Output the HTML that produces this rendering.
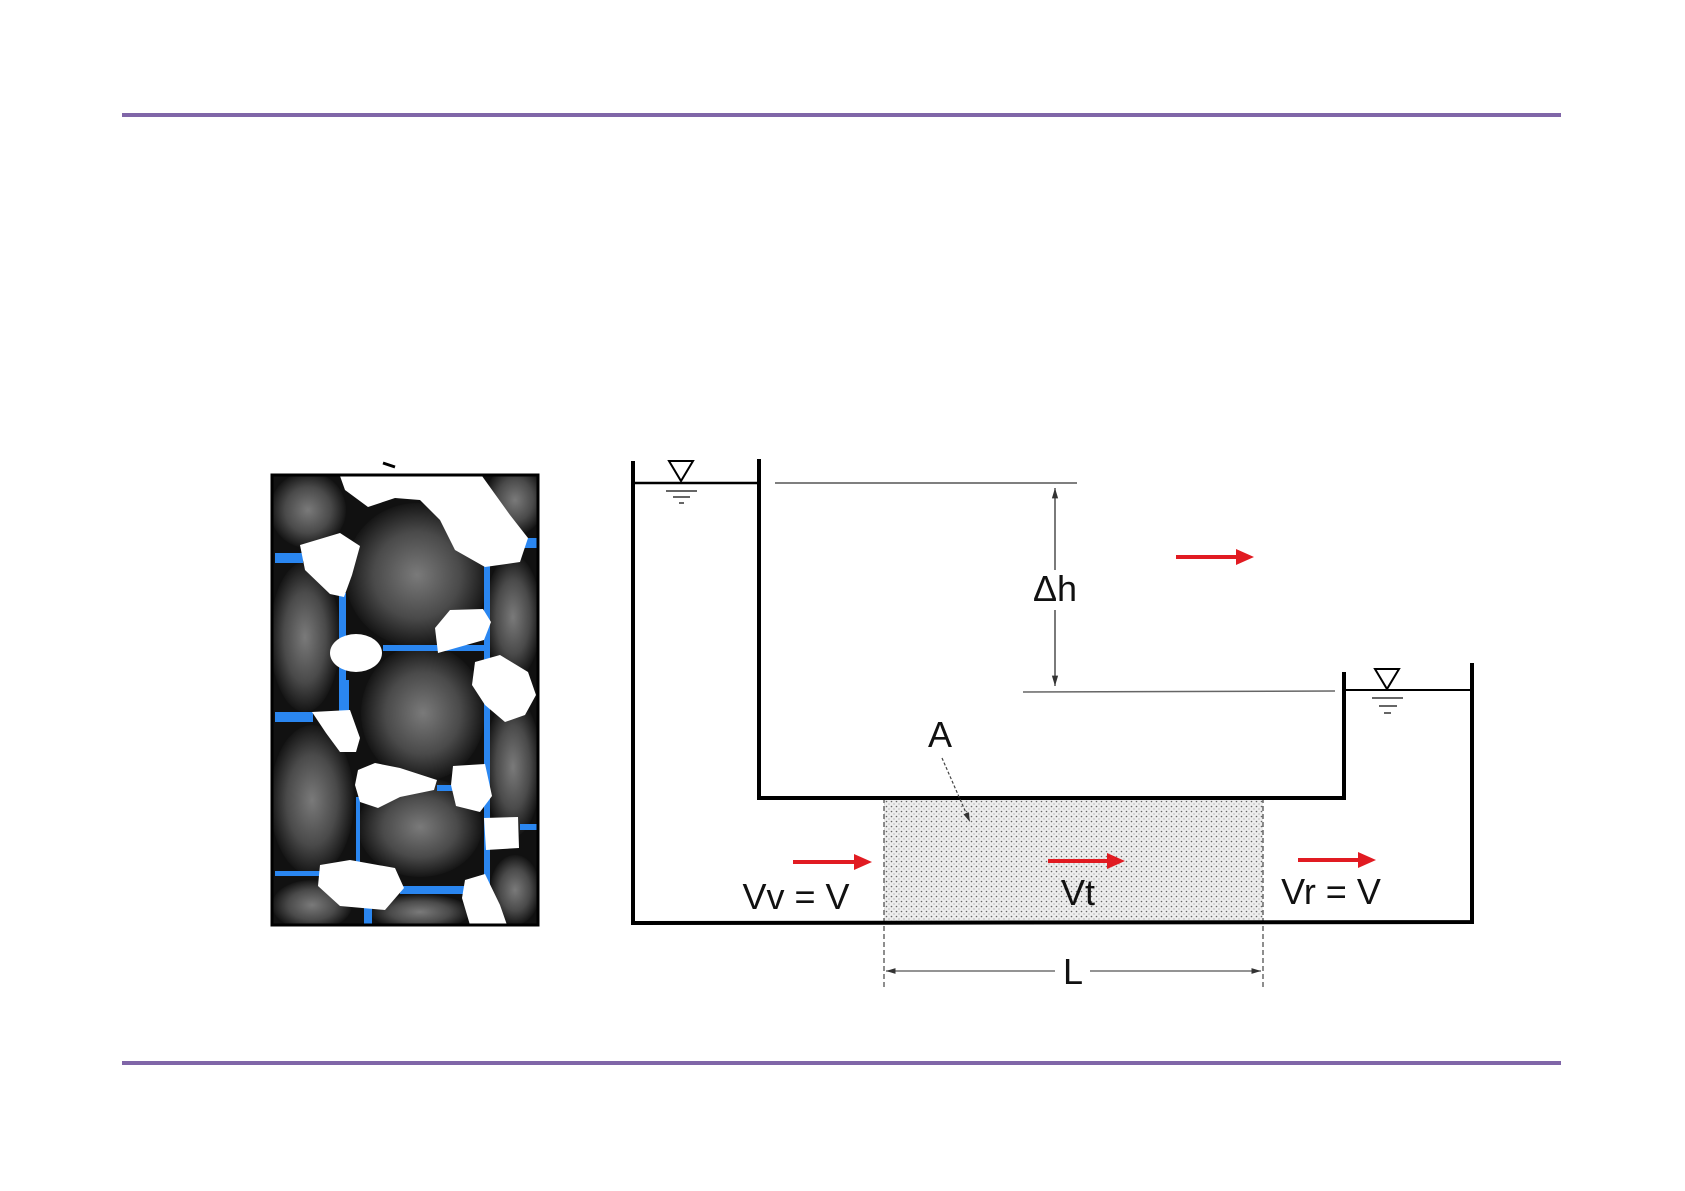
<!DOCTYPE html>
<html><head><meta charset="utf-8"><style>
html,body{margin:0;padding:0;background:#fff;}
svg{display:block;}
text{font-family:"Liberation Sans",sans-serif;fill:#111;}
</style></head><body>
<svg width="1685" height="1191" viewBox="0 0 1685 1191" xmlns="http://www.w3.org/2000/svg">
<defs>
<radialGradient id="g" cx="50%" cy="50%" r="50%">
<stop offset="0" stop-color="#7a7a7a"/><stop offset="0.6" stop-color="#4a4a4a"/><stop offset="1" stop-color="#151515"/>
</radialGradient>
<pattern id="dots" width="5" height="5" patternUnits="userSpaceOnUse">
<rect width="5" height="5" fill="#eeeeee"/><circle cx="1.5" cy="1.5" r="0.8" fill="#666"/><circle cx="4" cy="4" r="0.6" fill="#999"/>
</pattern>
<clipPath id="cp"><rect x="272" y="475" width="266" height="450"/></clipPath>
<marker id="ah" viewBox="0 0 10 10" refX="10" refY="5" markerWidth="8" markerHeight="8" orient="auto-start-reverse"><path d="M0,2 L10,5 L0,8 z" fill="#333"/></marker>
</defs>
<rect width="1685" height="1191" fill="#fff"/>
<rect x="122" y="113" width="1439" height="4" fill="#8066a8"/>
<rect x="122" y="1061" width="1439" height="4" fill="#8066a8"/>

<!-- porous panel -->
<g clip-path="url(#cp)">
<rect x="272" y="475" width="266" height="450" fill="#111"/>
<g fill="url(#g)">
<ellipse cx="417" cy="575" rx="72" ry="72"/>
<ellipse cx="423" cy="713" rx="62" ry="68"/>
<ellipse cx="420" cy="827" rx="62" ry="50"/>
<ellipse cx="308" cy="510" rx="38" ry="38"/>
<ellipse cx="305" cy="637" rx="35" ry="75"/>
<ellipse cx="312" cy="800" rx="42" ry="75"/>
<ellipse cx="312" cy="905" rx="40" ry="25"/>
<ellipse cx="515" cy="500" rx="30" ry="35"/>
<ellipse cx="513" cy="617" rx="28" ry="62"/>
<ellipse cx="513" cy="767" rx="28" ry="70"/>
<ellipse cx="515" cy="890" rx="25" ry="35"/>
<ellipse cx="420" cy="912" rx="50" ry="18"/>
</g>
<g fill="#2a86f0">
<rect x="275" y="553" width="28" height="10"/>
<rect x="520" y="538" width="17" height="10"/>
<rect x="339" y="593" width="7" height="124"/>
<rect x="339" y="680" width="10" height="40"/>
<rect x="383" y="645" width="107" height="6"/>
<rect x="484" y="560" width="6" height="330"/>
<rect x="275" y="712" width="38" height="10"/>
<rect x="356" y="797" width="4" height="73"/>
<rect x="437" y="785" width="20" height="6"/>
<rect x="520" y="824" width="17" height="6"/>
<rect x="275" y="871" width="45" height="5"/>
<rect x="400" y="886" width="70" height="8"/>
<rect x="364" y="906" width="8" height="19"/>
</g>
<g fill="#fff">
<path d="M340,476 L482,476 L510,515 L528,538 L520,562 L485,567 L455,550 L440,520 L420,500 L395,498 L368,507 L345,490 z"/>
<path d="M300,545 L340,533 L360,546 L352,575 L344,597 L330,594 L305,570 z"/>
<path d="M435,628 L450,610 L483,609 L491,622 L484,640 L438,653 z"/>
<ellipse cx="356" cy="653" rx="26" ry="19"/>
<path d="M475,662 L500,655 L528,672 L536,695 L525,715 L505,722 L485,705 L472,685 z"/>
<path d="M312,712 L350,710 L360,738 L356,752 L340,752 L326,733 z"/>
<path d="M358,770 L375,763 L400,768 L437,780 L434,790 L400,797 L378,808 L360,802 L355,785 z"/>
<path d="M453,766 L485,764 L492,796 L480,812 L456,806 L451,785 z"/>
<path d="M484,818 L518,817 L519,848 L486,850 z"/>
<path d="M320,865 L350,860 L395,868 L404,888 L385,910 L340,906 L318,886 z"/>
<path d="M465,880 L485,874 L500,905 L507,925 L470,925 L462,898 z"/>
</g>
</g>
<rect x="272" y="475" width="266" height="450" fill="none" stroke="#000" stroke-width="3"/>
<path d="M383,463 L395,467" stroke="#000" stroke-width="3"/>

<!-- sample -->
<rect x="884" y="798" width="379" height="124" fill="url(#dots)"/>
<line x1="884" y1="798" x2="884" y2="990" stroke="#444" stroke-width="1.2" stroke-dasharray="5,3"/>
<line x1="1263" y1="798" x2="1263" y2="990" stroke="#444" stroke-width="1.2" stroke-dasharray="5,3"/>

<!-- tanks -->
<g fill="none" stroke="#000" stroke-width="4">
<path d="M633,461 L633,923 L1472,922 L1472,663"/>
<path d="M759,459 L759,798 L1344,798 L1344,672"/>
</g>
<line x1="633" y1="483" x2="759" y2="483" stroke="#000" stroke-width="2.5"/>
<line x1="1344" y1="690" x2="1472" y2="690" stroke="#000" stroke-width="2"/>
<g fill="none" stroke="#000" stroke-width="2">
<path d="M669,461 L693,461 L681,481 z"/>
<path d="M1375,669 L1399,669 L1387,689 z"/>
</g>
<g stroke="#333" stroke-width="1.5">
<line x1="666" y1="491" x2="697" y2="491"/><line x1="673" y1="497" x2="690" y2="497"/><line x1="679" y1="503" x2="684" y2="503"/>
<line x1="1372" y1="698" x2="1403" y2="698"/><line x1="1379" y1="706" x2="1397" y2="706"/><line x1="1384" y1="713" x2="1391" y2="713"/>
</g>
<line x1="775" y1="483" x2="1077" y2="483" stroke="#555" stroke-width="1.5"/>
<line x1="1023" y1="692" x2="1335" y2="691" stroke="#666" stroke-width="1.5"/>
<line x1="1055" y1="488" x2="1055" y2="570" stroke="#333" stroke-width="1.3" marker-start="url(#ah)"/>
<line x1="1055" y1="610" x2="1055" y2="686" stroke="#333" stroke-width="1.3" marker-end="url(#ah)"/>
<line x1="942" y1="758" x2="970" y2="822" stroke="#444" stroke-width="1.2" stroke-dasharray="3,2" marker-end="url(#ah)"/>
<line x1="886" y1="971" x2="1055" y2="971" stroke="#555" stroke-width="1.2" marker-start="url(#ah)"/>
<line x1="1090" y1="971" x2="1261" y2="971" stroke="#555" stroke-width="1.2" marker-end="url(#ah)"/>

<!-- red arrows -->
<g fill="#e11b22" stroke="#e11b22">
<line x1="1176" y1="557" x2="1240" y2="557" stroke-width="4"/><path d="M1236,549 L1254,557 L1236,565 z" stroke="none"/>
<line x1="793" y1="862" x2="858" y2="862" stroke-width="4"/><path d="M854,854 L872,862 L854,870 z" stroke="none"/>
<line x1="1048" y1="861" x2="1111" y2="861" stroke-width="4"/><path d="M1107,853 L1125,861 L1107,869 z" stroke="none"/>
<line x1="1298" y1="860" x2="1362" y2="860" stroke-width="4"/><path d="M1358,852 L1376,860 L1358,868 z" stroke="none"/>
</g>

<g font-size="36">
<text x="1055" y="601" text-anchor="middle">Δh</text>
<text x="940" y="747" text-anchor="middle">A</text>
<text x="796" y="909" text-anchor="middle">Vv = V</text>
<text x="1078" y="905" text-anchor="middle">Vt</text>
<text x="1331" y="904" text-anchor="middle">Vr = V</text>
<text x="1073" y="984" text-anchor="middle">L</text>
</g>
</svg>
</body></html>
